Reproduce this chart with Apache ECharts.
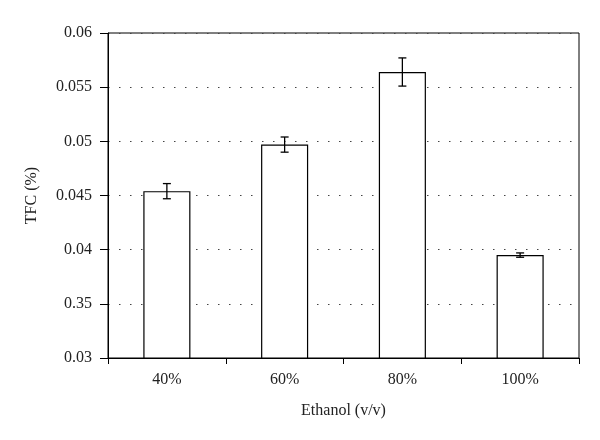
<!DOCTYPE html>
<html>
<head>
<meta charset="utf-8">
<script src="https://cdn.jsdelivr.net/npm/echarts@6/dist/echarts.min.js"></script>
<style>
    html, body {margin: 0; padding: 0; background: #fff;}
    #main {width: 600px; height: 440px;}
</style>
</head>
<body>
<div id="main"></div>
<script>
let categories = ['40%', '60%', '80%', '100%'];
let tfcValues = [0.0454, 0.0497, 0.0564, 0.0395];
let tfcErrors = [0.0007, 0.0007, 0.0013, 0.0002];
let yTickLabels = ['0.03', '0.35', '0.04', '0.045', '0.05', '0.055', '0.06'];

let fontFam = '"Liberation Serif", "DejaVu Serif", serif';
let txtColor = '#222';

let errData = tfcValues.map((v, i) => [i, v - tfcErrors[i], v + tfcErrors[i]]);

let renderError = (params, api) => {  // 误差线
    let x = api.value(0);
    let lo = api.coord([x, api.value(1)]);
    let hi = api.coord([x, api.value(2)]);
    let cap = 4;
    let style = {stroke: '#000', lineWidth: 1.3};
    return {
        type: 'group',
        children: [
            {type: 'line', shape: {x1: hi[0], y1: hi[1], x2: lo[0], y2: lo[1]}, style: style},
            {type: 'line', shape: {x1: hi[0] - cap, y1: hi[1], x2: hi[0] + cap, y2: hi[1]}, style: style},
            {type: 'line', shape: {x1: lo[0] - cap, y1: lo[1], x2: lo[0] + cap, y2: lo[1]}, style: style}
        ]
    };
};

let myChart = echarts.init(document.getElementById('main'));
myChart.setOption({
    animation: false,
    grid: {
        left: 108, right: 21, top: 33, bottom: 82,
        show: true, borderColor: '#000', borderWidth: 1
    },
    xAxis: {
        type: 'category',
        data: categories,
        name: 'Ethanol (v/v)',
        nameLocation: 'middle',
        nameGap: 45,
        nameTextStyle: {fontFamily: fontFam, fontSize: 16, color: txtColor},
        axisLine: {lineStyle: {color: '#000', width: 1}},
        axisTick: {show: true, length: 6, lineStyle: {color: '#000'}},
        axisLabel: {fontFamily: fontFam, fontSize: 16, color: txtColor, margin: 14}
    },
    yAxis: {
        type: 'value',
        min: 0.03,
        max: 0.06,
        interval: 0.005,
        name: 'TFC (%)',
        nameLocation: 'middle',
        nameGap: 68,
        nameTextStyle: {fontFamily: fontFam, fontSize: 16, color: txtColor},
        axisLine: {show: true, lineStyle: {color: '#000', width: 1}},
        axisTick: {show: true, length: 8, lineStyle: {color: '#000'}},
        axisLabel: {
            fontFamily: fontFam, fontSize: 16, color: txtColor, margin: 16,
            formatter: (v) => yTickLabels[Math.round((v - 0.03) / 0.005)] || ''
        },
        splitLine: {show: true, lineStyle: {color: '#444', width: 1.2, type: [1.5, 9.5]}}
    },
    series: [{
        type: 'bar',
        data: tfcValues,
        barWidth: '40%',
        silent: true,
        itemStyle: {color: '#fff', borderColor: '#000', borderWidth: 1.2}
    }, {
        type: 'custom',
        data: errData,
        renderItem: renderError,
        silent: true,
        z: 5
    }]
});
</script>
</body>
</html>
